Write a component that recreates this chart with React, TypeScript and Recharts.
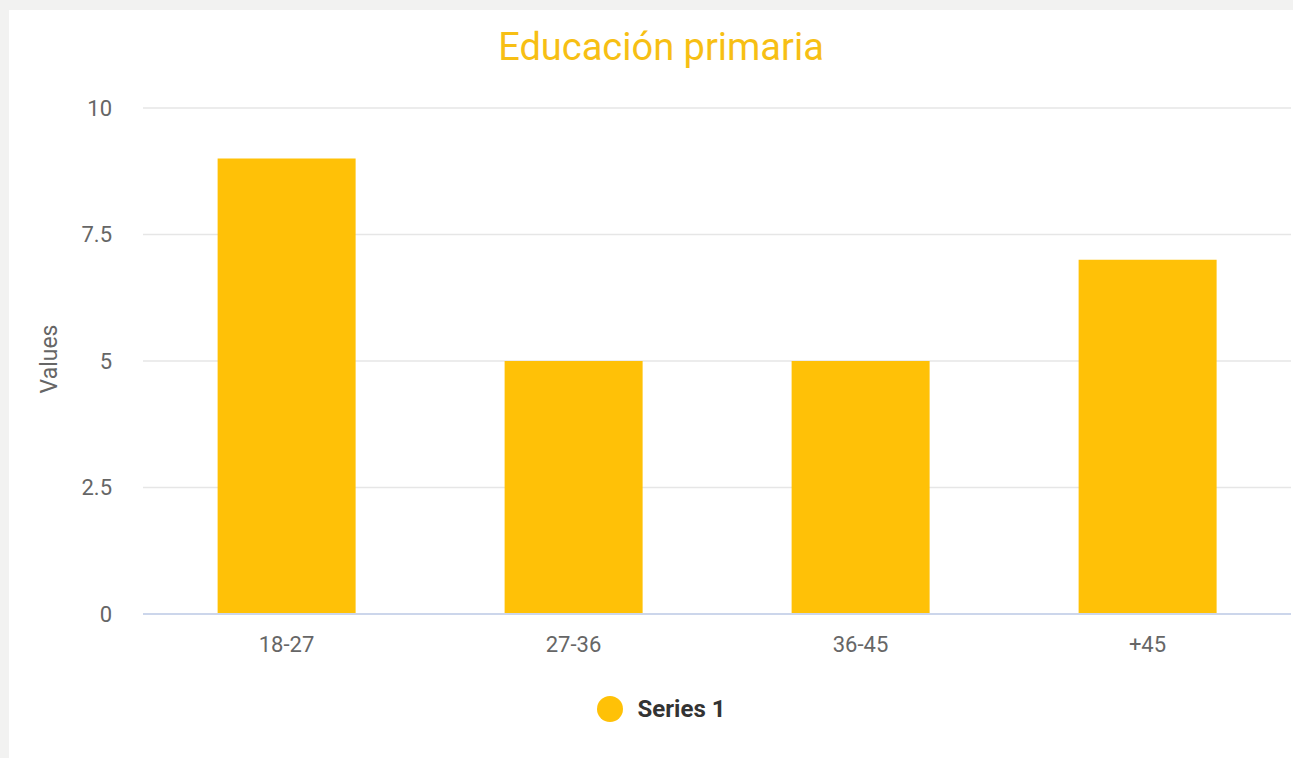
import { BarChart, Bar, XAxis, YAxis, CartesianGrid, Legend } from "recharts";

const categories = ["18-27", "27-36", "36-45", "+45"];
const series1 = [9, 5, 5, 7];
const yTicks = [0, 2.5, 5, 7.5, 10];

const data = categories.map((name, i) => ({ name, value: series1[i] }));

const AMBER = "#FFC107";
const FONT = "Roboto, 'Noto Sans', sans-serif";

function YLabel() {
  return (
    <text
      x={40}
      y={349}
      transform="rotate(-90 40 349)"
      textAnchor="middle"
      dominantBaseline="central"
      fill="#666666"
      fontSize={23}
      fontFamily={FONT}
    >
      Values
    </text>
  );
}

function SeriesLegend() {
  return (
    <div
      style={{
        height: 30,
        display: "flex",
        alignItems: "center",
        justifyContent: "center",
        gap: 15,
        fontFamily: FONT,
      }}
    >
      <span
        style={{
          width: 26,
          height: 26,
          borderRadius: "50%",
          background: AMBER,
          display: "inline-block",
        }}
      />
      <span style={{ fontSize: 24, fontWeight: 700, color: "#333333" }}>Series 1</span>
    </div>
  );
}

export default function App() {
  return (
    <div
      style={{
        position: "fixed",
        inset: 0,
        overflow: "hidden",
        background: "#f2f2f1",
      }}
    >
      <div
        style={{
          position: "absolute",
          left: 9,
          top: 10,
          width: 1304,
          height: 748,
          background: "#ffffff",
        }}
      >
        <div
          style={{
            position: "absolute",
            left: 0,
            top: 15,
            width: 1304,
            textAlign: "center",
            fontFamily: FONT,
            fontSize: 38,
            color: "#F7BF14",
            lineHeight: "44px",
          }}
        >
          Educación primaria
        </div>
        <BarChart
          width={1304}
          height={748}
          data={data}
          margin={{ top: 98, right: 22, bottom: 34, left: 0 }}
          barCategoryGap="26%"
        >
          <CartesianGrid vertical={false} stroke="#e6e6e6" strokeWidth={1.5} />
          <XAxis
            dataKey="name"
            height={80}
            tickLine={false}
            axisLine={{ stroke: "#ccd6eb", strokeWidth: 2 }}
            tick={{ fontSize: 22, fill: "#666666", fontFamily: FONT }}
            tickMargin={16}
          />
          <YAxis
            width={134}
            domain={[0, 10]}
            ticks={yTicks}
            axisLine={false}
            tickLine={false}
            tickMargin={25}
            tick={{ fontSize: 22, fill: "#666666", fontFamily: FONT }}
            label={<YLabel />}
          />
          <Legend
            verticalAlign="bottom"
            wrapperStyle={{ left: 0, width: 1304 }}
            content={<SeriesLegend />}
          />
          <Bar dataKey="value" name="Series 1" fill={AMBER} isAnimationActive={false} />
        </BarChart>
      </div>
    </div>
  );
}
